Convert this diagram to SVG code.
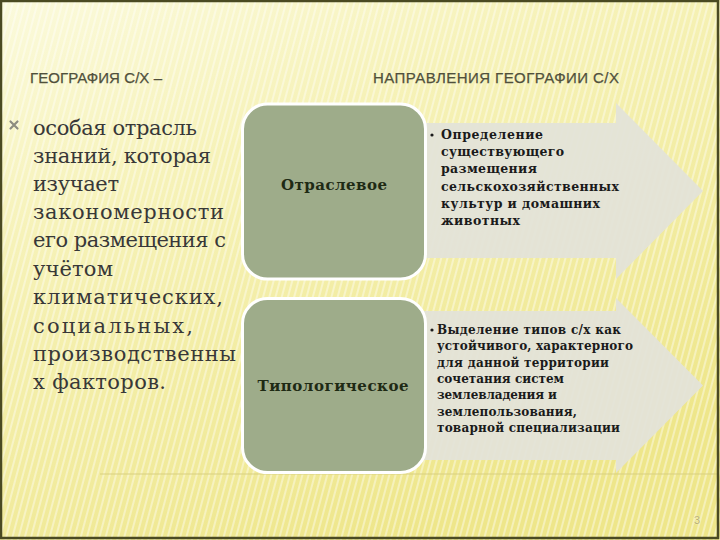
<svg xmlns="http://www.w3.org/2000/svg" width="720" height="540" viewBox="0 0 720 540">
  <defs>
    <linearGradient id="bg" x1="0" y1="0" x2="0.55" y2="1">
      <stop offset="0" stop-color="#fbfadc"/>
      <stop offset="0.35" stop-color="#f6f2b8"/>
      <stop offset="1" stop-color="#eee68a"/>
    </linearGradient>
    <pattern id="stripes" width="6" height="6" patternUnits="userSpaceOnUse" patternTransform="rotate(15)">
      <rect x="0" y="0" width="2" height="6" fill="#ffffff" opacity="0.4"/>
    </pattern>
    <style>
      .title { font-family: "Liberation Sans", Arial, sans-serif; font-size: 15px; fill: #50503c; stroke: #50503c; stroke-width: 0.25; }
      .body { font-family: "DejaVu Serif", "Liberation Serif", serif; font-size: 21px; fill: #383838; }
      .node { fill: #9eac8a; stroke: #ffffff; stroke-width: 3; }
      .nlabel { font-family: "DejaVu Serif", "Liberation Serif", serif; font-size: 15px; font-weight: bold; fill: #1e2a14; text-anchor: middle; }
      .arrow { fill: #e3e3d8; opacity: 0.95; }
      .atext { font-family: "DejaVu Serif", "Liberation Serif", serif; font-size: 12.5px; font-weight: bold; fill: #1a1a1a; }
      .btext { font-size: 12px; }
    </style>
  </defs>

  <!-- background -->
  <rect x="0" y="0" width="720" height="540" fill="url(#bg)"/>
  <rect x="0" y="0" width="720" height="540" fill="url(#stripes)"/>
  <line x1="100" y1="474" x2="718" y2="474" stroke="#d8cf80" stroke-width="1"/>
  <rect x="1" y="1" width="717" height="537" fill="none" stroke="#4a4a22" stroke-width="2.5"/>

  <!-- titles -->
  <text class="title" x="30" y="83" textLength="132">ГЕОГРАФИЯ С/Х –</text>
  <text class="title" x="373" y="83" textLength="246">НАПРАВЛЕНИЯ ГЕОГРАФИИ С/Х</text>

  <!-- left bullet and text -->
  <g id="left-text">
    <path d="M10.5 121.5 L17.5 128.5 M17.5 121.5 L10.5 128.5" stroke="#8c8c80" stroke-width="2.2" stroke-linecap="round"/>
    <text class="body" x="33" y="135" textLength="164">особая отрасль</text>
    <text class="body" x="33" y="163" textLength="178">знаний, которая</text>
    <text class="body" x="33" y="191" textLength="86">изучает</text>
    <text class="body" x="33" y="219" textLength="191">закономерности</text>
    <text class="body" x="33" y="247" textLength="193">его размещения с</text>
    <text class="body" x="33" y="276" textLength="80">учётом</text>
    <text class="body" x="33" y="304" textLength="190">климатических,</text>
    <text class="body" x="33" y="333" textLength="160">социальных,</text>
    <text class="body" x="33" y="361" textLength="203">производственны</text>
    <text class="body" x="33" y="389" textLength="133">х факторов.</text>
  </g>

  <!-- top arrow -->
  <g id="arrow-otraslevoe">
    <polygon class="arrow" points="400,123 616,123 616,103 703,191 616,279 616,258 400,258"/>
    <circle cx="432" cy="135" r="1.6" fill="#1a1a1a"/>
    <text class="atext" x="441" y="139" textLength="102">Определение</text>
    <text class="atext" x="441" y="156" textLength="123">существующего</text>
    <text class="atext" x="441" y="173" textLength="96">размещения</text>
    <text class="atext" x="441" y="191" textLength="178">сельскохозяйственных</text>
    <text class="atext" x="441" y="208" textLength="159">культур и домашних</text>
    <text class="atext" x="441" y="225" textLength="79">животных</text>
  </g>

  <!-- bottom arrow -->
  <g id="arrow-tipologicheskoe">
    <polygon class="arrow" points="400,311 616,311 616,298 703,385.5 616,473 616,460 400,460"/>
    <circle cx="432" cy="330" r="1.6" fill="#1a1a1a"/>
    <text class="atext btext" x="437" y="334" textLength="184">Выделение типов с/х как</text>
    <text class="atext btext" x="437" y="350" textLength="196">устойчивого, характерного</text>
    <text class="atext btext" x="437" y="367" textLength="172">для данной территории</text>
    <text class="atext btext" x="437" y="383" textLength="127">сочетания систем</text>
    <text class="atext btext" x="437" y="399" textLength="120">землевладения и</text>
    <text class="atext btext" x="437" y="416" textLength="140">землепользования,</text>
    <text class="atext btext" x="437" y="432" textLength="183">товарной специализации</text>
  </g>

  <!-- nodes -->
  <g id="node-otraslevoe">
    <rect class="node" x="242.5" y="104" width="183" height="175" rx="25" ry="25"/>
    <text class="nlabel" x="334" y="190" textLength="106">Отраслевое</text>
  </g>
  <g id="node-tipologicheskoe">
    <rect class="node" x="242.5" y="298.5" width="183" height="174" rx="25" ry="25"/>
    <text class="nlabel" x="333" y="391" textLength="151">Типологическое</text>
  </g>

  <!-- page number -->
  <text x="697" y="524" font-family="Liberation Sans, Arial, sans-serif" font-size="11" fill="#b8b070" stroke="#fbf8d8" stroke-width="0.6" paint-order="stroke" text-anchor="middle">3</text>
</svg>
